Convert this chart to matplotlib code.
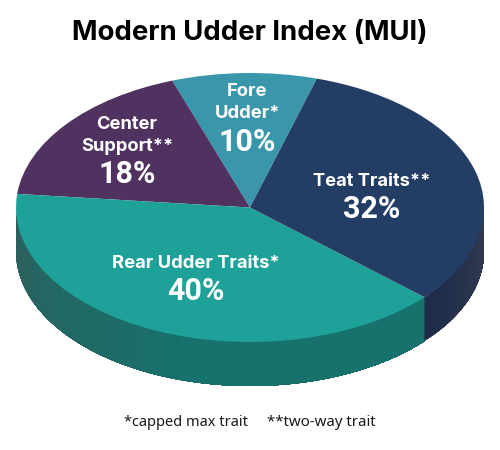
import matplotlib
matplotlib.use('Agg')
import matplotlib.pyplot as plt
import numpy as np
from matplotlib.colors import to_rgb
from matplotlib.patches import Polygon

#data
segments = ['Fore Udder', 'Center Support', 'Rear Udder Traits', 'Teat Traits']
shares = [10, 18, 40, 32]
colors = ['#3a96aa', '#4f3260', '#1ea198', '#233d64']
start_angle = 73.4

#pie geometry in pixels
W, H = 500, 450
cx, cy = 250, 207.5
rx, ry = 234, 134.5
depth = 44 / ry

def px(x, y):
    return (x - cx) / rx, (cy - y) / ry

fig = plt.figure(figsize=(W / 100, H / 100), dpi=100)
ax = fig.add_axes([0, 0, 1, 1])

#the wall under the pie, only the front half shows
#rear wedge runs dark at the left to lighter at the bottom, teat the same to the right
edges = start_angle + np.cumsum([0] + shares) * 3.6
rear_end = edges[3]
wall = [(180, rear_end, '#2d5f5c', '#17716c'), (rear_end, 360, '#1e2c4a', '#343d50')]
for a0, a1, c0, c1 in wall:
    steps = np.arange(a0, a1, 1.0)
    for a in steps:
        # each strip runs on to the end of the wedge so no seams show between them
        th = np.radians(np.arange(a, a1 + 0.5, 0.5).clip(max=a1))
        xs = np.cos(th)
        ys = np.sin(th)
        pts = list(zip(xs, ys)) + list(zip(xs[::-1], ys[::-1] - depth))
        if a0 == 180:
            # dark left side, settling to the flat teal by the bottom
            f = min((a - a0) / 75, 1)
        else:
            f = (a - a0) / (a1 - a0)
        col = np.array(to_rgb(c0)) * (1 - f) + np.array(to_rgb(c1)) * f
        ax.add_patch(Polygon(pts, closed=True, fc=col, ec='none', lw=0, zorder=1))

#top face
ax.pie(shares, colors=colors, startangle=start_angle, counterclock=True, radius=1,
       wedgeprops={'linewidth': 0, 'zorder': 2})
ax.set_aspect('auto')
ax.set_xlim(-cx / rx, (W - cx) / rx)
ax.set_ylim((cy - H) / ry, cy / ry)
ax.axis('off')

def label(x, y, s, size, weight='bold', color='white', family='Inter', ha='center'):
    lx, ly = px(x, y)
    ax.text(lx, ly, s, fontsize=size, fontweight=weight, color=color, family=family,
            ha=ha, va='center', zorder=5)

label(250, 33, 'Modern Udder Index (MUI)', 19.8, color='black')

label(247, 92, 'Fore', 13.2)
label(247, 114, 'Udder*', 13.2)
label(247, 142, '10%', 22, family='Roboto')

label(127, 125, 'Center', 13.2)
label(127, 147, 'Support**', 13.2)
label(127, 174, '18%', 22, family='Roboto')

label(372, 182, 'Teat Traits**', 13.2)
label(372, 209, '32%', 22, family='Roboto')

label(196, 263, 'Rear Udder Traits*', 13.2)
label(196, 291, '40%', 22, family='Roboto')

label(124, 423, '*capped max trait', 10.5, weight='normal', color='#1a1a1a', family='Noto Sans', ha='left')
label(267, 423, '**two-way trait', 10.8, weight='normal', color='#1a1a1a', family='Noto Sans', ha='left')

fig.savefig('out.png', dpi=100, facecolor='white')
